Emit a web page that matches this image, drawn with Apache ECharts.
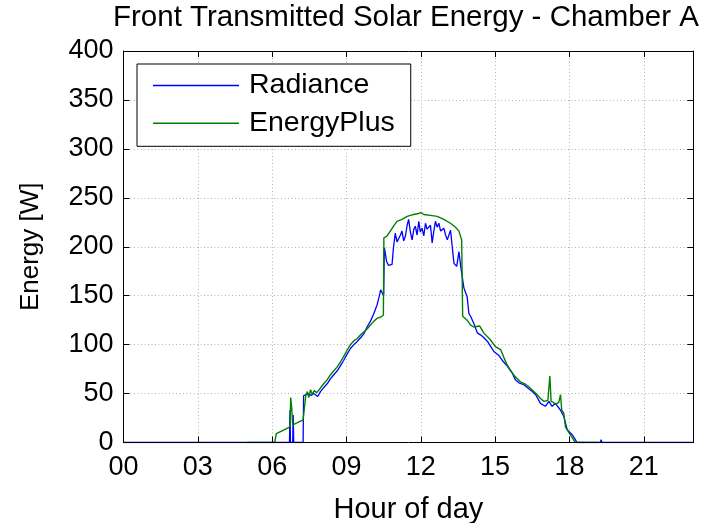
<!DOCTYPE html>
<html>
<head>
<meta charset="utf-8">
<script src="https://cdn.jsdelivr.net/npm/echarts@6/dist/echarts.min.js"></script>
<style>
html,body{margin:0;padding:0;background:#fff;}
#chart{width:707px;height:523px;}
</style>
</head>
<body>
<div id="chart"></div>
<script>
const titleText = 'Front Transmitted Solar Energy - Chamber A';
const xAxisName = 'Hour of day';
const yAxisName = 'Energy [W]';
const seriesNames = ['Radiance', 'EnergyPlus'];
const xTickLabels = ['00','03','06','09','12','15','18','21'];
const xMin = 0, xMax = 23, xStep = 3;
const yMin = 0, yMax = 400, yStep = 50;

const radHours = [0, 0.76, 0.8, 0.84, 3.72, 3.76, 3.8, 4.56, 4.6, 4.64,
 6.70, 6.72, 6.74, 6.83, 6.85, 6.87, 7.25, 7.27, 7.35, 7.48,
 7.58, 7.68, 7.84, 7.95, 8.08, 8.22, 8.35, 8.48, 8.62, 8.75,
 8.89, 9.02, 9.16, 9.30, 9.43, 9.57, 9.70, 9.83, 9.97, 10.11,
 10.24, 10.31, 10.38, 10.45, 10.50, 10.53, 10.57, 10.62, 10.70, 10.84,
 10.90, 10.97, 11.04, 11.11, 11.18, 11.24, 11.31, 11.38, 11.45, 11.51,
 11.58, 11.65, 11.72, 11.78, 11.85, 11.92, 11.98, 12.05, 12.12, 12.19,
 12.25, 12.32, 12.39, 12.46, 12.52, 12.59, 12.66, 12.73, 12.80, 12.86,
 12.93, 13.00, 13.07, 13.13, 13.20, 13.27, 13.34, 13.45, 13.54, 13.61,
 13.67, 13.74, 13.81, 13.87, 13.94, 14.01, 14.08, 14.15, 14.28, 14.41,
 14.55, 14.70, 14.85, 14.95, 15.05, 15.15, 15.32, 15.49, 15.69, 15.82,
 15.96, 16.16, 16.36, 16.50, 16.63, 16.83, 17.03, 17.17, 17.30, 17.44,
 17.55, 17.64, 17.77, 17.91, 18.11, 18.24, 18.30, 19.25, 19.28, 19.31,
 19.80, 19.83, 19.86, 21.20, 21.23, 21.26, 21.70, 21.73, 21.76, 22.20,
 22.23, 22.26, 22.60, 22.63, 22.66, 23.00];
const radValues = [0, 0, 1.5, 0, 0, 1, 0, 0, 1, 0,
 0, 33, 0, 0, 28, 0, 0, 48, 50, 50,
 48, 50, 47, 52, 56, 60, 65, 69, 73, 78,
 84, 90, 96, 100, 103, 107, 111, 118, 124, 132,
 141, 148, 156, 158, 150, 199, 199, 185, 181, 182,
 200, 214, 205, 204, 212, 216, 206, 211, 222, 228,
 215, 207, 218, 221, 212, 226, 215, 219, 211, 224,
 218, 217, 222, 204, 215, 226, 220, 224, 216, 214,
 219, 212, 207, 209, 217, 200, 183, 180, 195, 180,
 170, 158, 153, 149, 132, 129, 130, 121, 112, 110,
 107, 103, 97, 93, 91, 89, 83, 78, 71, 64,
 61, 59, 55, 52, 49, 40, 37, 42, 37, 40,
 36, 33, 27, 13, 8, 3, 0, 0, 3, 0,
 0, 1, 0, 0, 1.5, 0, 0, 1, 0, 0,
 1.5, 0, 0, 1, 0, 0];

const epHours = [5.00, 6.10, 6.17, 6.40, 6.72, 6.75, 6.79, 6.83, 7.00, 7.25,
 7.30, 7.36, 7.42, 7.48, 7.55, 7.62, 7.70, 7.80, 7.90, 8.08,
 8.22, 8.35, 8.48, 8.62, 8.75, 8.89, 9.02, 9.16, 9.30, 9.43,
 9.57, 9.70, 9.83, 9.97, 10.11, 10.24, 10.37, 10.49, 10.51, 10.64,
 10.77, 10.90, 11.04, 11.24, 11.45, 11.72, 11.92, 12.01, 12.12, 12.39,
 12.66, 12.93, 13.20, 13.40, 13.54, 13.65, 13.69, 13.87, 14.01, 14.14,
 14.38, 14.54, 14.81, 15.01, 15.22, 15.35, 15.49, 15.62, 15.75, 16.02,
 16.20, 16.36, 16.52, 16.69, 16.83, 16.97, 17.13, 17.21, 17.26, 17.35,
 17.44, 17.57, 17.64, 17.69, 17.77, 17.84, 17.98, 18.11, 18.24, 19.20];
const epValues = [0, 0, 9, 12, 16, 46, 35, 18, 20, 23,
 35, 48, 52, 46, 54, 49, 53, 51, 54, 60,
 64, 69, 73, 77, 82, 88, 94, 100, 104, 106,
 110, 113, 116, 120, 124, 127, 128, 130, 209, 211,
 216, 221, 226, 228, 231, 233, 234, 235, 233, 232,
 231, 228, 224, 220, 216, 207, 129, 125, 120, 118,
 119, 112, 105, 98, 95, 87, 79, 74, 69, 62,
 60, 57, 53, 49, 45, 42, 43, 68, 42, 41,
 39, 41, 49, 33, 30, 16, 10, 5, 0, 0];

const FONT = '"Liberation Sans", Arial, Helvetica, sans-serif';
const radData = radHours.map((h, i) => [h, radValues[i]]);
const epData = epHours.map((h, i) => [h, epValues[i]]);

const chart = echarts.init(document.getElementById('chart'), null, {renderer: 'canvas'});
const gridLine = {show: true, lineStyle: {color: '#b4b4b4', width: 1, type: [1, 2.5]}};
const frameLine = {show: true, onZero: false, lineStyle: {color: '#000', width: 1}};
const tickIn = {show: true, inside: true, length: 6, lineStyle: {color: '#000', width: 1}};

chart.setOption({
  animation: false,
  backgroundColor: '#fff',
  title: {
    text: titleText, left: 113, top: 3, padding: 0,
    textStyle: {fontFamily: FONT, fontSize: 29.5, fontWeight: 'normal', color: '#000'}
  },
  grid: {left: 123.5, right: 13.7, top: 51, bottom: 80.5, containLabel: false, outerBoundsMode: 'none'},
  legend: {
    orient: 'vertical', left: 137, top: 64,
    padding: [7, 16, 8.6, 16], itemGap: 8.7, itemWidth: 86, itemHeight: 1.6,
    icon: 'rect',
    borderColor: '#000', borderWidth: 1, backgroundColor: '#fff',
    textStyle: {fontFamily: FONT, fontSize: 28.5, color: '#000', lineHeight: 28, padding: [0, 0, 0, 5]},
    data: seriesNames
  },
  xAxis: [
    {
      type: 'value', position: 'bottom', min: xMin, max: xMax, interval: xStep, z: 5,
      axisLine: frameLine, axisTick: tickIn, splitLine: {show: false},
      axisLabel: {
        margin: 12, showMaxLabel: false, color: '#000', fontFamily: FONT, fontSize: 27,
        formatter: v => { const i = Math.round(v / xStep); return (Math.abs(v - i * xStep) < 1e-6 && xTickLabels[i] !== undefined) ? xTickLabels[i] : ''; }
      },
      name: xAxisName, nameLocation: 'middle', nameGap: 53,
      nameTextStyle: {fontFamily: FONT, fontSize: 29, color: '#000'}
    },
    {
      type: 'value', position: 'top', min: xMin, max: xMax, interval: xStep,
      axisLine: frameLine, axisTick: tickIn, axisLabel: {show: false}, splitLine: gridLine
    }
  ],
  yAxis: [
    {
      type: 'value', position: 'left', min: yMin, max: yMax, interval: yStep,
      axisLine: frameLine, axisTick: tickIn, splitLine: gridLine,
      axisLabel: {margin: 10, color: '#000', fontFamily: FONT, fontSize: 27},
      name: yAxisName, nameLocation: 'middle', nameGap: 80, nameRotate: 90,
      nameTextStyle: {fontFamily: FONT, fontSize: 26, color: '#000'}
    },
    {
      type: 'value', position: 'right', min: yMin, max: yMax, interval: yStep,
      axisLine: frameLine, axisTick: tickIn, axisLabel: {show: false}, splitLine: {show: false}
    }
  ],
  series: [
    {
      name: seriesNames[0], type: 'line', data: radData, xAxisIndex: 0, yAxisIndex: 0,
      symbol: 'none', showSymbol: false, z: 2,
      lineStyle: {color: '#0000ff', width: 1.3}, itemStyle: {color: '#0000ff'}
    },
    {
      name: seriesNames[1], type: 'line', data: epData, xAxisIndex: 0, yAxisIndex: 0,
      symbol: 'none', showSymbol: false, z: 3,
      lineStyle: {color: '#008000', width: 1.4}, itemStyle: {color: '#008000'}
    }
  ]
});
</script>
</body>
</html>
